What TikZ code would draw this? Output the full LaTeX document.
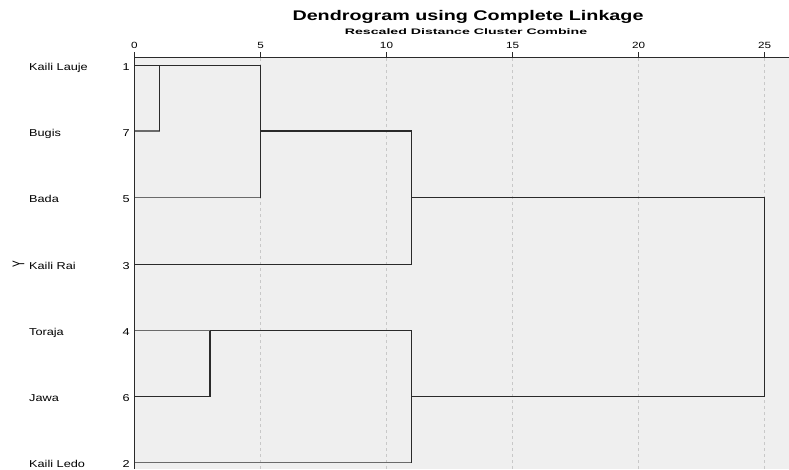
\documentclass[tikz,border=0pt]{standalone}
\usepackage{fontspec}
\setmainfont{Liberation Sans}
\usepackage{graphicx}
\newcommand{\hsc}[2]{\scalebox{#1}[1]{#2}}
\definecolor{plotbg}{HTML}{EFEFEF}
\definecolor{gridc}{HTML}{C8C8C8}
\definecolor{dkline}{HTML}{2A2A2A}
\definecolor{ltline}{HTML}{6A6A6A}
\tikzset{
  gridline/.style={draw=gridc, line width=1pt, dash pattern=on 3pt off 3pt},
  axisline/.style={draw=dkline, line width=1.3pt},
  dk/.style={draw=dkline, line width=1.4pt},
  lt/.style={draw=ltline, line width=1.3pt},
  ticklab/.style={font=\fontsize{9}{10}\selectfont, anchor=base, inner sep=0pt},
  namelab/.style={font=\fontsize{10}{12}\selectfont, anchor=base west, inner sep=0pt},
  numlab/.style={font=\fontsize{10}{12}\selectfont, anchor=base east, inner sep=0pt},
}
\begin{document}
\begin{tikzpicture}[x=1pt,y=-1pt]
\useasboundingbox (0,0) rectangle (789,469);
\fill[white] (0,0) rectangle (789,469);
\fill[plotbg] (134,57.5) rectangle (789,469);
% grid
\foreach \d in {5,10,15,20,25} {
  \draw[gridline] ({134+25.2*\d},58) -- ({134+25.2*\d},469);
}
% axes
\draw[axisline] (134,57.5) -- (789,57.5);
\draw[axisline] (134.5,57.5) -- (134.5,469);
\foreach \d in {0,5,10,15,20,25} {
  \draw[axisline] ({134.5+25.2*\d},57.5) -- ({134.5+25.2*\d},51.5);
  \node[ticklab] (t\d) at ({134.5+25.2*\d},48.5) {\hsc{1.3}{\d}};
}
% titles
\node[font=\bfseries\fontsize{14}{16}\selectfont, anchor=base, inner sep=0pt] (title) at (468,20) {\hsc{1.41}{Dendrogram using Complete Linkage}};
\node[font=\bfseries\fontsize{8}{9}\selectfont, anchor=base, inner sep=0pt] (subtitle) at (466,34) {\hsc{1.77}{Rescaled Distance Cluster Combine}};
% Y axis label
\node[font=\fontsize{10}{12}\selectfont, rotate=90, inner sep=0pt] (ylab) at (18.5,264.5) {\scalebox{1}[1.7]{Y}};
% leaf rows
\def\rA{65.5}\def\rB{131}\def\rC{197.5}\def\rD{264.5}\def\rE{330.5}\def\rF{396.5}\def\rG{462.5}
\node[namelab] (n1) at (29,\rA+5) {\hsc{1.27}{Kaili Lauje}};
\node[namelab] (n7) at (29,\rB+5) {\hsc{1.27}{Bugis}};
\node[namelab] (n5) at (29,\rC+5) {\hsc{1.27}{Bada}};
\node[namelab] (n3) at (29,\rD+5) {\hsc{1.27}{Kaili Rai}};
\node[namelab] (n4) at (29,\rE+5) {\hsc{1.27}{Toraja}};
\node[namelab] (n6) at (29,\rF+5) {\hsc{1.27}{Jawa}};
\node[namelab] (n2) at (29,\rG+5) {\hsc{1.27}{Kaili Ledo}};
\node[numlab] (k1) at (130,\rA+5) {\hsc{1.27}{1}};
\node[numlab] (k7) at (130,\rB+5) {\hsc{1.27}{7}};
\node[numlab] (k5) at (130,\rC+5) {\hsc{1.27}{5}};
\node[numlab] (k3) at (130,\rD+5) {\hsc{1.27}{3}};
\node[numlab] (k4) at (130,\rE+5) {\hsc{1.27}{4}};
\node[numlab] (k6) at (130,\rF+5) {\hsc{1.27}{6}};
\node[numlab] (k2) at (130,\rG+5) {\hsc{1.27}{2}};
% coordinates
\coordinate (a1) at (134.5,\rA);
\coordinate (a7) at (134.5,\rB);
\coordinate (a5) at (134.5,\rC);
\coordinate (a3) at (134.5,\rD);
\coordinate (a4) at (134.5,\rE);
\coordinate (a6) at (134.5,\rF);
\coordinate (a2) at (134.5,\rG);
\coordinate (p0) at (159.5,\rA);
\coordinate (p1) at (159.5,\rA);
\coordinate (p2) at (159.5,\rB);
\coordinate (q1) at (260.5,\rA);
\coordinate (q2) at (260.5,\rC);
\coordinate (q3) at (260.5,\rB);
\coordinate (s1) at (411.5,\rB);
\coordinate (s2) at (411.5,\rD);
\coordinate (s3) at (411.5,\rC);
\coordinate (w1) at (764.5,\rC);
\coordinate (w2) at (764.5,\rF);
\coordinate (u1) at (210,\rE);
\coordinate (u2) at (210,\rF);
\coordinate (v1) at (411.5,\rE);
\coordinate (v2) at (411.5,\rG);
\coordinate (v3) at (411.5,\rF);
% dendrogram
\draw[lt] (a7) -- (p2);
\draw[lt] (a5) -- (q2);
\draw[lt] (a4) -- (u1);
\draw[lt] (a2) -- (v2);
\draw[dk] (a6) -- (u2);
\draw[dk] (a1) -- (q1);
\draw[dk] (p1) -- (p2);
\draw[dk] (q1) -- (q2);
\draw[dk] (q3) -- (s1) -- (s2);
\draw[dk] (a3) -- (s2);
\draw[dk] (s3) -- (w1) -- (w2) -- (v3);
\draw[dk] (u1) -- (v1);
\draw[dk] (u1) -- (u2);
\draw[dk] (v1) -- (v2);
\end{tikzpicture}
\end{document}
